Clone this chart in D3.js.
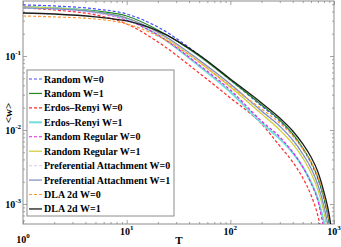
<!DOCTYPE html>
<html><head><meta charset="utf-8">
<script src="https://cdn.jsdelivr.net/npm/d3@7"></script>
<style>body{margin:0;background:#fff}svg{display:block}</style>
</head><body><svg id="c" width="341" height="247"></svg>
<script>
// ---- data ----
const T = [1,2,5,10,20,50,100,200,300,400,500,600,700,800,900,950];
const randomW0 = [0.489,0.474,0.432,0.369,0.246,0.103,0.0474,0.0211,0.0132,0.00856,0.00554,0.00358,0.00218,0.00117,0.00054,0.00033];
const randomW1 = [0.459,0.445,0.406,0.347,0.225,0.100,0.0474,0.0218,0.0136,0.00883,0.00571,0.00369,0.00225,0.00121,0.00057,0.00033];
const erW0 = [0.445,0.418,0.358,0.271,0.155,0.0589,0.0271,0.0121,0.00608,0.00369,0.00225,0.00132,0.00069,0.00028,0.00011,0.0001];
const erW1 = [0.459,0.445,0.393,0.316,0.192,0.0733,0.0326,0.0124,0.00756,0.00489,0.00316,0.00198,0.00117,0.00057,0.00028,0.000175];
const rrW0 = [0.459,0.432,0.381,0.306,0.192,0.0756,0.0347,0.0132,0.00804,0.00504,0.00316,0.00192,0.00110,0.00047,0.000239,0.00015];
const rrW1 = [0.459,0.445,0.393,0.326,0.205,0.0830,0.0381,0.0165,0.0100,0.00647,0.00418,0.00262,0.00155,0.00078,0.00033,0.000205];
const paW0 = [0.445,0.432,0.381,0.316,0.205,0.0856,0.0406,0.0175,0.0110,0.0071,0.00459,0.00297,0.00175,0.00088,0.00038,0.000239];
const paW1 = [0.445,0.432,0.393,0.326,0.211,0.0883,0.0418,0.0181,0.0113,0.00733,0.00474,0.00306,0.00181,0.00094,0.00041,0.000254];
const dlaW0 = [0.347,0.337,0.316,0.271,0.186,0.0830,0.0393,0.0192,0.0124,0.00830,0.00554,0.00369,0.00232,0.00128,0.00061,0.00037];
const dlaW1 = [0.381,0.369,0.337,0.297,0.218,0.103,0.0489,0.0232,0.0145,0.00969,0.00647,0.00432,0.00271,0.00145,0.00071,0.00042];
const seriesNames = ["Random W=0","Random W=1","Erdos\u2013Renyi W=0","Erdos\u2013Renyi W=1","Random Regular W=0","Random Regular W=1","Preferential Attachment W=0","Preferential Attachment W=1","DLA 2d W=0","DLA 2d W=1"];
const seriesValues = [randomW0,randomW1,erW0,erW1,rrW0,rrW1,paW0,paW1,dlaW0,dlaW1];
const xTicks = [1,10,100,1000];
const xTickExp = ["0","1","2","3"];
const yTicks = [0.001,0.01,0.1];
const yTickExp = ["-3","-2","-1"];
const xLimits = [1,1000];
const yLimits = [0.000537,0.553];

// ---- styles ----
const styles = [
  {c:"#4a4aff",d:"3,2",w:1.2},
  {c:"#1f8a1f",d:null,w:1.2},
  {c:"#ff2b2b",d:"3,2",w:1.2},
  {c:"#70dcdc",d:null,w:2},
  {c:"#e024e0",d:"3,2",w:1.2},
  {c:"#cccc2e",d:null,w:1.2},
  {c:"#e8d0f4",d:"3,2",w:1.2},
  {c:"#7a8cc0",d:null,w:1.2},
  {c:"#ff9933",d:"3,2",w:1.2},
  {c:"#1a1a1a",d:null,w:1.3}
];
const L=23,R=334,Tp=1,B=224;
const svg=d3.select("#c");
const x=d3.scaleLog().domain(xLimits).range([L,R]);
const y=d3.scaleLog().domain(yLimits).range([B,Tp]);
const font="'Liberation Serif','Times New Roman',serif";

svg.append("clipPath").attr("id","clip").append("rect").attr("x",L).attr("y",Tp).attr("width",R-L).attr("height",B-Tp);

const xMinor=[],yMinor=[];
[1,10,100].forEach(d=>{for(let k=2;k<10;k++)xMinor.push(d*k);});
[0.0001,0.001,0.01,0.1].forEach(d=>{for(let k=2;k<10;k++){const v=d*k;if(v>=yLimits[0]&&v<=yLimits[1])yMinor.push(v);}});

const axCol="#8c8c8c";
function ax(g,gen,vals,size){g.call(gen.tickValues(vals).tickSize(size).tickFormat("").tickSizeOuter(0));g.selectAll("path").remove();g.selectAll("line").attr("stroke",axCol).attr("stroke-width",0.8);}
svg.append("g").attr("transform",`translate(0,${B})`).call(g=>ax(g,d3.axisBottom(x),xMinor,-2));
svg.append("g").attr("transform",`translate(0,${B})`).call(g=>ax(g,d3.axisBottom(x),xTicks,-4));
svg.append("g").attr("transform",`translate(0,${Tp})`).call(g=>ax(g,d3.axisTop(x),xMinor,-2));
svg.append("g").attr("transform",`translate(0,${Tp})`).call(g=>ax(g,d3.axisTop(x),xTicks,-4));
svg.append("g").attr("transform",`translate(${L},0)`).call(g=>ax(g,d3.axisLeft(y),yMinor,-2));
svg.append("g").attr("transform",`translate(${L},0)`).call(g=>ax(g,d3.axisLeft(y),yTicks,-4));
svg.append("g").attr("transform",`translate(${R},0)`).call(g=>ax(g,d3.axisRight(y),yMinor,-2));
svg.append("g").attr("transform",`translate(${R},0)`).call(g=>ax(g,d3.axisRight(y),yTicks,-4));
svg.append("rect").attr("x",L).attr("y",Tp).attr("width",R-L).attr("height",B-Tp).attr("fill","none").attr("stroke",axCol).attr("stroke-width",1);

const line=d3.line().x((d,i)=>x(T[i])).y(d=>y(d)).curve(d3.curveMonotoneX);
const gl=svg.append("g").attr("clip-path","url(#clip)");
seriesValues.forEach((vals,i)=>{
  const s=styles[i];
  gl.append("path").attr("d",line(vals)).attr("fill","none").attr("stroke",s.c).attr("stroke-width",s.w).attr("stroke-dasharray",s.d);
});

xTicks.forEach((t,i)=>{
  const base = i===0?243:235;
  const tx=svg.append("text").attr("x",x(t)).attr("y",base).attr("text-anchor","middle").attr("font-family",font).attr("font-weight","bold").attr("font-size",10).attr("fill","#000");
  tx.append("tspan").text("10");
  tx.append("tspan").attr("dy",-5).attr("font-size",7).text(xTickExp[i]);
});
yTicks.forEach((t,i)=>{
  const tx=svg.append("text").attr("x",21).attr("y",y(t)+4).attr("text-anchor","end").attr("font-family",font).attr("font-weight","bold").attr("font-size",10).attr("fill","#000");
  tx.append("tspan").text("10");
  tx.append("tspan").attr("dy",-5).attr("font-size",7).text(yTickExp[i]);
});
svg.append("text").attr("x",179).attr("y",244).attr("text-anchor","middle").attr("font-family",font).attr("font-weight","bold").attr("font-size",11).text("T");
svg.append("text").attr("transform","translate(12,113) rotate(-90)").attr("text-anchor","middle").attr("font-family",font).attr("font-weight","bold").attr("font-size",11).text("<w>");

const lg=svg.append("g");
lg.append("rect").attr("x",27).attr("y",70).attr("width",147).attr("height",146).attr("fill","#fff").attr("stroke",axCol).attr("stroke-width",1);
seriesNames.forEach((n,i)=>{
  const yy=79+i*14.44, s=styles[i];
  lg.append("line").attr("x1",29).attr("x2",42).attr("y1",yy).attr("y2",yy).attr("stroke",s.c).attr("stroke-width",s.w).attr("stroke-dasharray",s.d);
  lg.append("text").attr("x",44).attr("y",yy+3.5).attr("font-family",font).attr("font-weight","bold").attr("font-size",10).text(n);
});
</script></body></html>
